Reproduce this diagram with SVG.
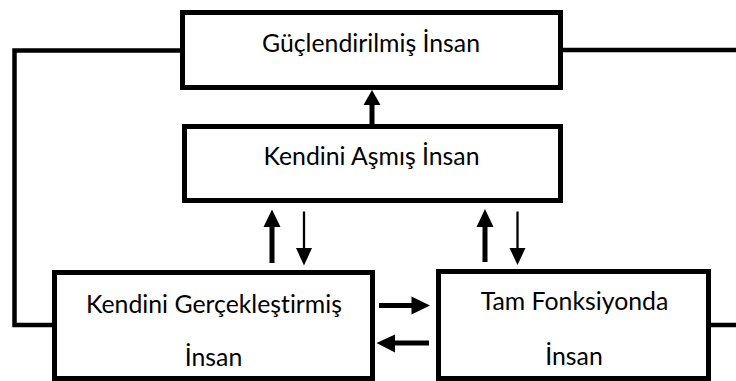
<svg xmlns="http://www.w3.org/2000/svg" width="736" height="381" viewBox="0 0 736 381">
<defs>
<style>
.box{fill:#fff;stroke:#000;stroke-width:5}
.line{fill:none;stroke:#000;stroke-width:4.5}
.thick{stroke:#000;stroke-width:5}
.thin{stroke:#000;stroke-width:2.3}
.head{fill:#000}
text{font-family:"Lato","Open Sans",sans-serif;font-size:24.8px;fill:#000;text-anchor:middle;font-variant-ligatures:none;font-feature-settings:"liga" 0,"dlig" 0}
</style>
</defs>
<rect width="736" height="381" fill="#fff"/>
<g id="connectors">
<polyline class="line" points="180,50.5 14.5,50.5 14.5,325 52,325"/>
<line class="line" x1="563" y1="50" x2="736" y2="50"/>
<line class="line" x1="711" y1="325" x2="736" y2="325"/>
<line class="thick" x1="372" y1="124" x2="372" y2="104"/>
<polygon class="head" points="372,90 363.5,105 380.5,105"/>
<line class="thick" x1="272" y1="263" x2="272" y2="226"/>
<polygon class="head" points="272,209.5 263.5,227 280.5,227"/>
<line class="thin" x1="304" y1="211.5" x2="304" y2="249"/>
<polygon class="head" points="304,265.5 296,248 312,248"/>
<line class="thick" x1="485" y1="262" x2="485" y2="226"/>
<polygon class="head" points="485,209 476.5,227 493.5,227"/>
<line class="thin" x1="517.5" y1="211.5" x2="517.5" y2="249"/>
<polygon class="head" points="517.5,265 509.5,248 525.5,248"/>
<line class="thick" x1="379" y1="305.5" x2="412" y2="305.5"/>
<polygon class="head" points="430,305.5 411.5,296.5 411.5,314.5"/>
<line class="thick" x1="429" y1="343" x2="394" y2="343"/>
<polygon class="head" points="376.5,343 395,334.5 395,352.5"/>
</g>
<g id="guclendirilmis">
<rect class="box" x="182.5" y="12.5" width="378" height="75"/>
<text x="371" y="51.5">Güçlendirilmiş İnsan</text>
</g>
<g id="kendini-asmis">
<rect class="box" x="184.5" y="126.5" width="376" height="74"/>
<text x="371.5" y="165">Kendini Aşmış İnsan</text>
</g>
<g id="kendini-gerceklestirmis">
<rect class="box" x="54.5" y="272.5" width="318" height="106"/>
<text x="214" y="313">Kendini Gerçekleştirmiş</text>
<text x="213.5" y="366">İnsan</text>
</g>
<g id="tam-fonksiyonda">
<rect class="box" x="438.5" y="271.5" width="270" height="107"/>
<text x="574.5" y="310">Tam Fonksiyonda</text>
<text x="574" y="365">İnsan</text>
</g>
</svg>
